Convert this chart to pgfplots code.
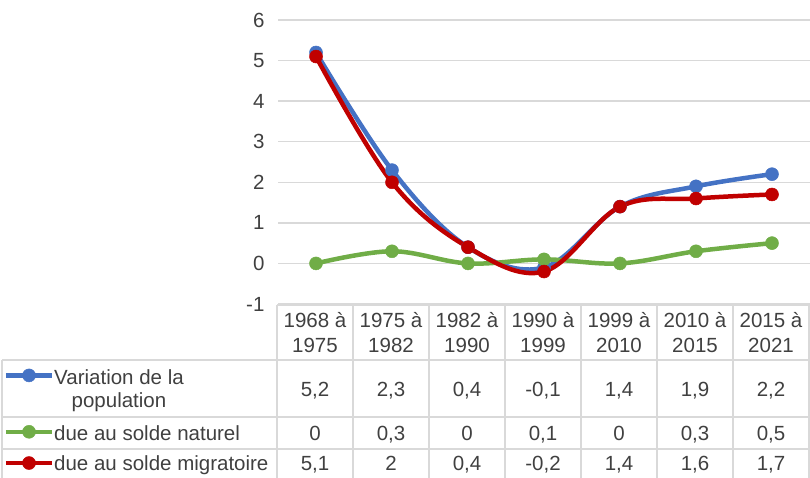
\documentclass[border=0pt]{standalone}
\usepackage{fontspec}
\setmainfont{Liberation Sans}
\usepackage{pgfplots}
\pgfplotsset{compat=1.18}
\definecolor{cblue}{HTML}{4472C4}
\definecolor{cgreen}{HTML}{70AD47}
\definecolor{cred}{HTML}{C00000}
\definecolor{cgrid}{HTML}{D9D9D9}
\definecolor{ctext}{HTML}{404040}
\newcommand{\tf}{\fontsize{20.5}{25}\selectfont}
\begin{document}
\begin{tikzpicture}[x=1pt,y=1pt]
\path[use as bounding box] (0,0) rectangle (810,477);
\begin{axis}[
 at={(278pt,173pt)}, anchor=south west,
 scale only axis, width=532pt, height=284pt,
 xmin=-0.5, xmax=6.5, ymin=-1, ymax=6,
 axis line style={draw=none}, tick style={draw=none},
 xtick=\empty,
 ytick={-1,0,1,2,3,4,5,6}, yticklabels={-1,0,1,2,3,4,5,6},
 ymajorgrids, grid style={cgrid, line width=1.5pt},
 major tick length=0pt,
 yticklabel style={font=\tf, text=ctext, xshift=-10pt},
 clip=false,
 every axis plot/.append style={line width=4.5pt, mark=*, mark size=6.5pt, smooth, tension=0.6, mark options={solid, line width=0.5pt}},
]
\addplot[cblue] coordinates {(0,5.2)(1,2.3)(2,0.4)(3,-0.1)(4,1.4)(5,1.9)(6,2.2)};
\addplot[cgreen] coordinates {(0,0)(1,0.3)(2,0)(3,0.1)(4,0)(5,0.3)(6,0.5)};
\addplot[cred] coordinates {(0,5.1)(1,2)(2,0.4)(3,-0.2)(4,1.4)(5,1.6)(6,1.7)};
% legend keys inside the data table
\addplot[cblue, forget plot, mark indices={2}] coordinates {(-4.079,-2.76)(-3.776,-2.76)(-3.474,-2.76)};
\addplot[cgreen, forget plot, mark indices={2}] coordinates {(-4.079,-4.15)(-3.776,-4.15)(-3.474,-4.15)};
\addplot[cred, forget plot, mark indices={2}] coordinates {(-4.079,-4.92)(-3.776,-4.92)(-3.474,-4.92)};
\end{axis}
% data table
\begin{scope}[cgrid, line width=1.5pt]
\draw (277,172) -- (810,172);
\draw (2,117) -- (810,117);
\draw (2,60) -- (810,60);
\draw (2,28) -- (810,28);
\draw (277,172) -- (277,-5);
\draw (2,117) -- (2,-5);
\foreach \xx in {353,429,505,581,657,733,809} {\draw (\xx,172) -- (\xx,-5);}
\end{scope}
\begin{scope}[every node/.style={font=\tf, text=ctext, inner sep=0pt, anchor=base}]
\foreach \a/\b [count=\i from 0] in {1968/1975,1975/1982,1982/1990,1990/1999,1999/2010,2010/2015,2015/2021} {
  \node at (315+76*\i,150) {\a{} à};
  \node at (315+76*\i,125) {\b};
}
\foreach \v [count=\i from 0] in {{5,2},{2,3},{0,4},{-0,1},{1,4},{1,9},{2,2}} {\node at (315+76*\i,81) {\v};}
\foreach \v [count=\i from 0] in {{0},{0,3},{0},{0,1},{0},{0,3},{0,5}} {\node at (315+76*\i,37) {\v};}
\foreach \v [count=\i from 0] in {{5,1},{2},{0,4},{-0,2},{1,4},{1,6},{1,7}} {\node at (315+76*\i,7) {\v};}
\node at (119,93) {Variation de la};
\node at (119,70) {population};
\node[anchor=base west] at (54,37) {due au solde naturel};
\node[anchor=base west] at (54,7) {due au solde migratoire};
\end{scope}
\end{tikzpicture}
\end{document}
